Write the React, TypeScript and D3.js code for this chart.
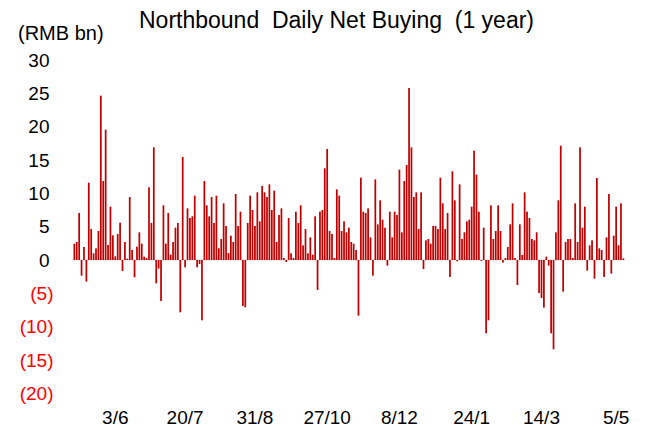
import React from "react";
import * as d3 from "d3";

const values: number[] = [
  2.45, 2.7, 7.05, -2.35, 1.95, -3.25, 11.6, 4.65, 1.0, 1.75,
  4.35, 24.65, 11.85, 19.55, 2.25, 8.0, 3.7, 0.55, 3.9, 5.6,
  -1.65, 2.7, 0.2, 9.45, 1.5, -2.6, 2.0, 4.15, 2.45, 0.5,
  0.3, 10.9, 5.55, 16.9, -3.5, -1.3, -6.15, 8.2, 2.45, 7.05,
  0.8, 2.7, 4.85, 5.55, -7.85, 15.45, -1.1, 7.75, 6.3, 6.55,
  9.65, -1.1, -0.6, -9.05, 11.85, 8.2, 6.55, 9.45, 5.55, 9.65,
  1.75, 3.15, 8.5, 5.1, 1.05, 3.65, 2.7, 9.9, 5.1, 7.25,
  -6.9, -7.1, 5.55, 9.65, 7.5, 5.1, 10.15, 5.8, 11.1, 10.15,
  9.45, 11.35, 7.5, 10.4, 2.7, 6.75, 7.75, 0.3, -0.3, 6.3,
  1.0, 0.3, 7.25, 5.55, 8.2, 2.2, 4.65, 1.0, 3.4, 0.8,
  6.55, -4.5, 7.25, 7.5, 13.75, 16.65, 4.35, 3.9, 0.3, 10.6,
  9.65, 4.35, 5.8, 4.15, 4.85, 2.7, 2.45, 1.5, -8.35, 12.35,
  7.25, 7.05, 7.75, 3.4, -2.35, 12.1, 5.35, 8.95, 6.05, 4.85,
  -0.85, 7.25, 3.4, 7.25, 6.75, 13.55, 4.15, 11.85, 14.25, 25.8,
  16.9, 9.45, 10.15, 4.65, 10.15, -1.35, 2.95, 3.15, 2.45, 5.1,
  5.1, 4.65, 12.35, 8.5, 4.65, 7.05, -2.55, 13.3, 8.95, -0.2,
  11.35, 3.15, 4.15, 5.8, 6.05, 8.0, 16.4, 12.8, 7.25, -0.15,
  4.85, -11.0, -9.05, 8.2, 3.15, 4.35, 8.2, 4.35, -0.4, 0.3,
  1.95, 5.35, 8.5, 0.3, -3.75, 5.35, 0.75, 10.15, 7.25, 6.3,
  3.15, 2.95, 4.15, -4.95, -5.7, -7.15, 0.5, -0.85, -11.0, -13.4,
  4.15, 8.95, 17.15, -4.75, 2.7, 3.15, 3.15, 0.3, 8.5, 2.7,
  16.9, 4.85, 8.0, -1.6, 2.2, 2.95, -2.8, 12.3, 1.75, 1.5,
  -2.55, 3.4, 9.9, -2.05, 3.65, 8.0, 2.2, 8.5, 0.25,
];

const xLabels: string[] = ["3/6", "20/7", "31/8", "27/10", "8/12", "24/1", "14/3", "5/5"];
const xLabelIndex: number[] = [17, 46, 75, 105, 135, 165, 194, 225];
const yTicks: number[] = [30, 25, 20, 15, 10, 5, 0, -5, -10, -15, -20];

const title = "Northbound  Daily Net Buying  (1 year)";
const unitLabel = "(RMB bn)";

const W = 654;
const H = 427;
const FONT = "'Liberation Sans', Arial, sans-serif";

export default function App() {
  const idx = values.map((_, i) => i);
  const x = d3.scaleBand<number>().domain(idx).range([72.8, 624.9]).padding(0.28);
  const y = d3.scaleLinear().domain([-20, 30]).range([393.3, 60]);
  const fmt = (v: number) => (v < 0 ? `(${Math.abs(v)})` : `${v}`);

  return (
    <div style={{ position: "fixed", left: 0, top: 0 }}>
      <svg width={W} height={H} style={{ display: "block", background: "#fff" }}>
        <text
          x={336.5}
          y={28}
          textAnchor="middle"
          fontFamily={FONT}
          fontSize={23}
          fill="#000"
          style={{ whiteSpace: "pre" }}
        >
          {title}
        </text>
        <text x={18} y={40} fontFamily={FONT} fontSize={20} fill="#000">
          {unitLabel}
        </text>
        {yTicks.map((t) => (
          <text
            key={t}
            x={t < 0 ? 53.5 : 49.5}
            y={y(t)}
            dy="0.35em"
            textAnchor="end"
            fontFamily={FONT}
            fontSize={19}
            fill={t < 0 ? "#ff0000" : "#000"}
          >
            {fmt(t)}
          </text>
        ))}
        <line x1={72.8} x2={624.9} y1={y(0)} y2={y(0)} stroke="#d9d9d9" strokeWidth={1} />
        {values.map((v, i) => (
          <rect
            key={i}
            x={x(i)!}
            width={x.bandwidth()}
            y={Math.min(y(v), y(0))}
            height={Math.abs(y(v) - y(0))}
            fill="#c00000"
          />
        ))}
        {xLabels.map((l, k) => (
          <text
            key={l}
            x={x(xLabelIndex[k])! + x.bandwidth() / 2}
            y={424}
            textAnchor="middle"
            fontFamily={FONT}
            fontSize={19}
            fill="#000"
          >
            {l}
          </text>
        ))}
      </svg>
    </div>
  );
}
